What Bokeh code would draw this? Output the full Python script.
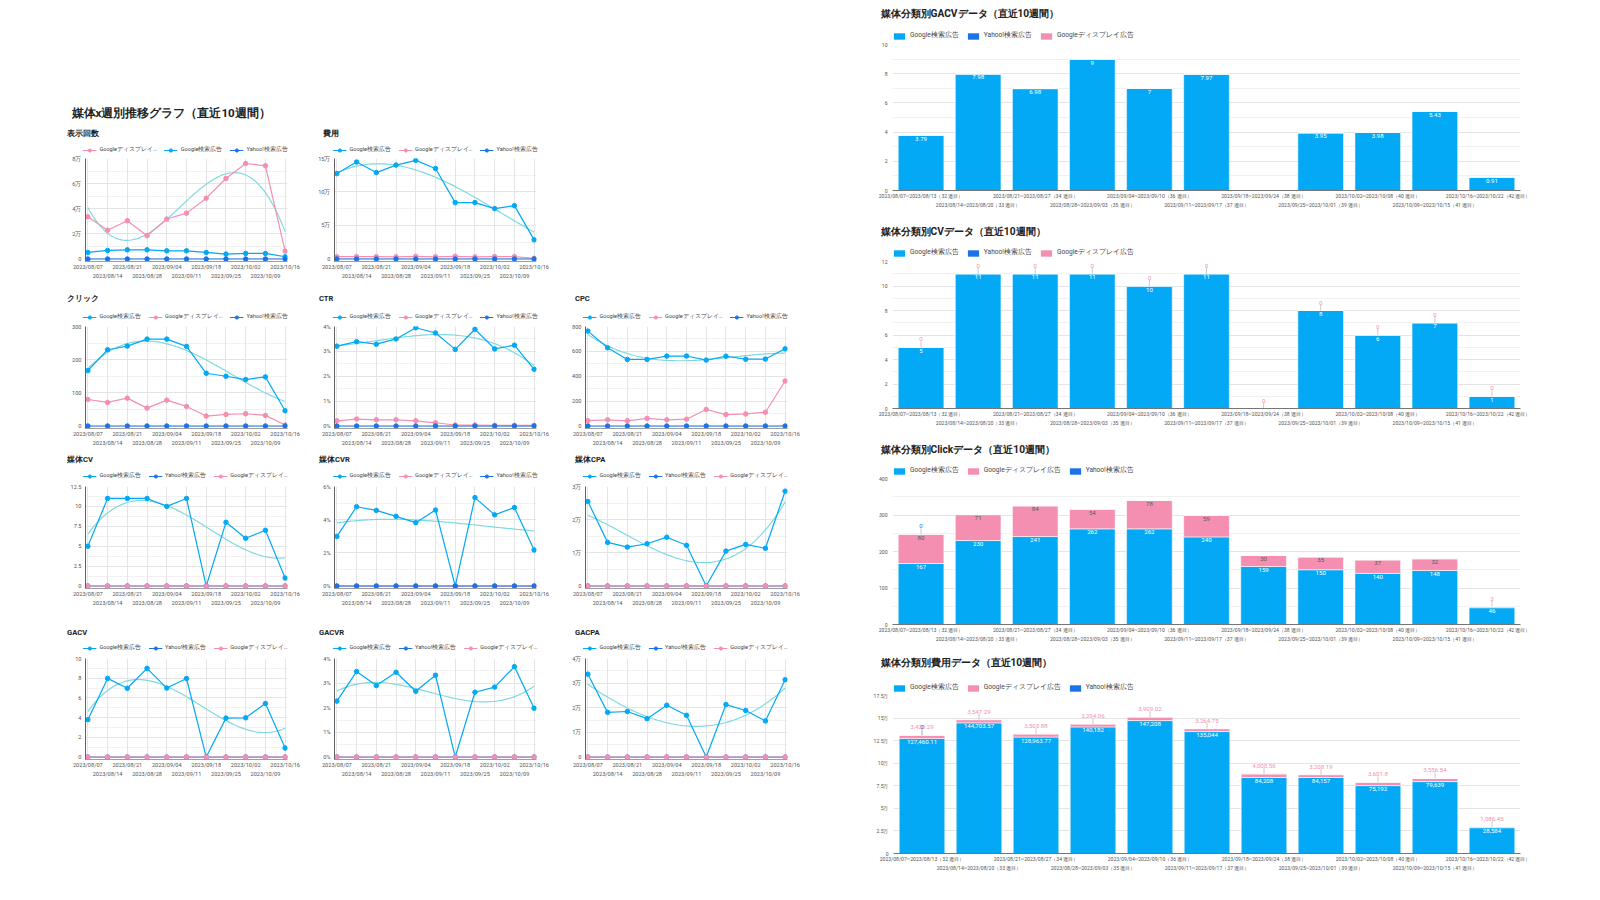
import numpy as np
from bokeh.plotting import figure
from bokeh.models import (Range1d, FixedTicker, LinearAxis, Grid, Legend, LegendItem,
                          Label, Spacer)
from bokeh.layouts import row, column
from bokeh.core.properties import value
from bokeh.embed import file_html
from bokeh.resources import INLINE

FONT = "Roboto"

# ---------------- data ----------------
weeks = ["2023/08/07", "2023/08/14", "2023/08/21", "2023/08/28", "2023/09/04", "2023/09/11",
         "2023/09/18", "2023/09/25", "2023/10/02", "2023/10/09", "2023/10/16"]
week_ends = ["2023/08/13", "2023/08/20", "2023/08/27", "2023/09/03", "2023/09/10", "2023/09/17",
             "2023/09/24", "2023/10/01", "2023/10/08", "2023/10/15", "2023/10/22"]
week_nos = [32, 33, 34, 35, 36, 37, 38, 39, 40, 41, 42]

GS = "Google検索広告"
YH = "Yahoo!検索広告"
GD = "Googleディスプレイ広告"
GD_S = "Googleディスプレイ…"

zeros = [0, 0, 0, 0, 0, 0, 0, 0, 0, 0, 0]

imp_display = [33600, 22900, 30500, 18500, 31800, 36500, 48400, 64100, 76000, 74200, 6300]
imp_search = [5200, 6800, 7300, 7300, 6500, 6500, 5200, 3900, 4400, 4400, 1800]

cost_search = [127460.11, 144703.57, 128963.77, 140182, 147208, 135044, 84208, 84157, 75192, 79639, 28584]
cost_display = [3420.29, 3547.29, 3503.88, 3294.06, 3909.02, 3264.75, 4000.56, 3208.19, 3601.8, 3556.54, 1086.45]

click_search = [167, 230, 241, 262, 262, 240, 159, 150, 140, 148, 46]
click_display = [80, 71, 84, 54, 78, 59, 30, 35, 37, 32, 3]

ctr_search = [3.21, 3.39, 3.29, 3.50, 3.95, 3.74, 3.08, 3.89, 3.10, 3.25, 2.28]
ctr_display = [0.21, 0.28, 0.25, 0.25, 0.21, 0.13, 0.04, 0.04, 0.03, 0.03, 0.03]

cpc_search = [763, 629, 535, 535, 562, 563, 530, 561, 537, 538, 621]
cpc_display = [43, 50, 42, 61, 50, 55, 133, 92, 97, 111, 362]

cv_search = [5, 11, 11, 11, 10, 11, 0, 8, 6, 7, 1]
cvr_search = [2.99, 4.78, 4.56, 4.20, 3.82, 4.58, 0, 5.33, 4.29, 4.73, 2.17]
cpa_search = [25492, 13155, 11724, 12744, 14721, 12277, 0, 10520, 12532, 11377, 28584]

gacv_search = [3.79, 7.98, 6.98, 9, 7, 7.97, 0, 3.95, 3.98, 5.43, 0.91]
gacvr_search = [2.27, 3.47, 2.90, 3.44, 2.67, 3.32, 0, 2.63, 2.84, 3.67, 1.98]
gacpa_search = [33631, 18133, 18476, 15576, 21030, 16944, 0, 21306, 18892, 14667, 31411]

# ---------------- style ----------------
C_GS = "#03a9f4"
C_YH = "#1a73e8"
C_GD = "#f48fb1"
C_TR = "#80d8e2"
GRID = "#e4e4e4"
MINOR = "#f1f1f1"
TXT = "#555555"

X = list(range(11))
week_range_labels = [f"{a}~{b}（{n} 週目）" for a, b, n in zip(weeks, week_ends, week_nos)]


def fmt(v):
    return f"{v:,.2f}".rstrip("0").rstrip(".")


def header_fig(w, h):
    # whole canvas is the frame; data units == canvas pixels
    p = figure(width=w, height=h, x_range=Range1d(0, w), y_range=Range1d(0, h),
               x_axis_type=None, y_axis_type=None, toolbar_location=None, output_backend="svg",
               min_border=0, outline_line_color=None, title=None, frame_align=False)
    p.grid.visible = False
    return p


def week_axes(p, labels, size, line_color):
    evens = [0, 2, 4, 6, 8, 10]
    odds = [1, 3, 5, 7, 9]
    for ticks, standoff, line in ((evens, 2, line_color), (odds, 0, None)):
        ax = LinearAxis(ticker=FixedTicker(ticks=ticks, minor_ticks=[]),
                        major_label_overrides={float(i): labels[i] for i in ticks},
                        axis_line_color=line, major_tick_line_color=None, minor_tick_line_color=None,
                        major_tick_out=0, major_tick_in=0, minor_tick_out=0, minor_tick_in=0,
                        major_label_standoff=standoff, major_label_text_font_size=size,
                        major_label_text_color=TXT, major_label_text_font=FONT)
        p.add_layout(ax, "below")


def style_y(p, ticks, tick_labels, minor, size, axis_line, standoff):
    yt = FixedTicker(ticks=ticks, minor_ticks=minor)
    ya = p.yaxis[0]
    ya.ticker = yt
    ya.major_label_overrides = {float(t): s for t, s in zip(ticks, tick_labels)}
    ya.axis_line_color = axis_line
    ya.major_tick_line_color = None
    ya.minor_tick_line_color = None
    ya.major_tick_out = 0
    ya.major_tick_in = 0
    ya.minor_tick_out = 0
    ya.minor_tick_in = 0
    ya.major_label_text_font = FONT
    ya.major_label_text_font_size = size
    ya.major_label_text_color = TXT
    ya.major_label_standoff = standoff
    g = p.ygrid[0]
    g.ticker = yt
    g.grid_line_color = GRID
    g.minor_grid_line_color = MINOR


# ---------------- small line charts ----------------
cols = [(250, 25, 23, 6.5), (250, 24, 24, 8.5), (250, 25, 23, 14.5)]     # width, left, right, title x
rows = [(30, 9, 103, 0), (40, 16, 102, 1), (33, 10, 102, 2), (45, 23, 101, 2)]  # header h, title y, frame h, legend margin
SMT, SMB = 4, 21


def small_chart(title, series, ticks, tick_labels, minor, r, c, tx=None):
    width, ml, mr, tx0 = cols[c]
    tx = tx0 if tx is None else tx
    hh, ty, fh, lm = rows[r]
    ymax = ticks[-1]
    p = figure(width=width, height=SMT + fh + SMB, x_axis_type=None, toolbar_location=None,
               output_backend="svg", title=None, frame_align=False,
               x_range=Range1d(-0.12, 10.12), y_range=Range1d(-0.025 * ymax, ymax),
               min_border_left=ml, min_border_right=mr, min_border_top=SMT, min_border_bottom=SMB,
               outline_line_color=None)
    style_y(p, ticks, tick_labels, minor, "5.6px", "#616161", 4)
    p.add_layout(Grid(dimension=0, ticker=FixedTicker(ticks=X, minor_ticks=[]), grid_line_color=GRID))
    week_axes(p, weeks, "5.6px", "#9e9e9e")
    first = series[0][1]
    coef = np.polyfit(X, first, 3)
    xs = np.linspace(0, 10, 101)
    p.line(xs, np.polyval(coef, xs), line_color=C_TR, line_width=1.2)
    for name, vals, color in series:
        p.line(X, vals, line_color=color, line_width=1.2)
        p.scatter(X, vals, size=4.5, fill_color=color, line_color=color)

    h = header_fig(width, hh)
    h.add_layout(Label(x=tx, y=hh - ty, text=title, text_font=FONT, text_font_size="7.6px",
                       text_font_style="bold", text_color="#222", text_baseline="middle"))
    items = []
    for name, vals, color in series:
        l = h.line(x=[-1000, -999], y=[-1000, -1000], line_color=color, line_width=1.2)
        s = h.scatter(x=[-1000], y=[-1000], size=4.5, fill_color=color, line_color=color)
        items.append(LegendItem(label=name, renderers=[l, s]))
    leg = Legend(items=items, orientation="horizontal", location="bottom",
                 label_text_font=FONT, label_text_font_size="5.6px", label_text_color="#444",
                 glyph_width=14, glyph_height=8, label_height=8, label_standoff=3, spacing=7,
                 padding=0, margin=lm, border_line_color=None, background_fill_alpha=0)
    h.add_layout(leg)
    return column(h, p)


S_GS = lambda v: (GS, v, C_GS)
S_YH = lambda v: (YH, v, C_YH)
S_GD = lambda v: (GD_S, v, C_GD)
pct = lambda ts: [f"{t}%" for t in ts]

imp = small_chart("表示回数", [S_GD(imp_display), S_GS(imp_search), S_YH(zeros)],
                  [0, 20000, 40000, 60000, 80000], ["0", "2万", "4万", "6万", "8万"],
                  [10000, 30000, 50000, 70000], 0, 0)
cost = small_chart("費用", [S_GS(cost_search), S_GD(cost_display), S_YH(zeros)],
                   [0, 50000, 100000, 150000], ["0", "5万", "10万", "15万"],
                   [25000, 75000, 125000], 0, 1, tx=12)
click = small_chart("クリック", [S_GS(click_search), S_GD(click_display), S_YH(zeros)],
                    [0, 100, 200, 300], ["0", "100", "200", "300"], [50, 150, 250], 1, 0)
ctr = small_chart("CTR", [S_GS(ctr_search), S_GD(ctr_display), S_YH(zeros)],
                  [0, 1, 2, 3, 4], pct([0, 1, 2, 3, 4]), [0.5, 1.5, 2.5, 3.5], 1, 1)
cpc = small_chart("CPC", [S_GS(cpc_search), S_GD(cpc_display), S_YH(zeros)],
                  [0, 200, 400, 600, 800], ["0", "200", "400", "600", "800"],
                  [100, 300, 500, 700], 1, 2)
cv = small_chart("媒体CV", [S_GS(cv_search), S_YH(zeros), S_GD(zeros)],
                 [0, 2.5, 5, 7.5, 10, 12.5], ["0", "2.5", "5", "7.5", "10", "12.5"],
                 [1.25, 3.75, 6.25, 8.75, 11.25], 2, 0)
cvr = small_chart("媒体CVR", [S_GS(cvr_search), S_GD(zeros), S_YH(zeros)],
                  [0, 2, 4, 6], pct([0, 2, 4, 6]), [1, 3, 5], 2, 1)
cpa = small_chart("媒体CPA", [S_GS(cpa_search), S_YH(zeros), S_GD(zeros)],
                  [0, 10000, 20000, 30000], ["0", "1万", "2万", "3万"],
                  [5000, 15000, 25000], 2, 2)
gacv_s = small_chart("GACV", [S_GS(gacv_search), S_YH(zeros), S_GD(zeros)],
                     [0, 2, 4, 6, 8, 10], ["0", "2", "4", "6", "8", "10"],
                     [1, 3, 5, 7, 9], 3, 0)
gacvr_s = small_chart("GACVR", [S_GS(gacvr_search), S_YH(zeros), S_GD(zeros)],
                      [0, 1, 2, 3, 4], pct([0, 1, 2, 3, 4]), [0.5, 1.5, 2.5, 3.5], 3, 1)
gacpa_s = small_chart("GACPA", [S_GS(gacpa_search), S_YH(zeros), S_GD(zeros)],
                      [0, 10000, 20000, 30000, 40000], ["0", "1万", "2万", "3万", "4万"],
                      [5000, 15000, 25000, 35000], 3, 2)

main_title = header_fig(750, 24)
main_title.add_layout(Label(x=11, y=12, text="媒体x週別推移グラフ（直近10週間）", text_font=FONT,
                            text_font_size="11.6px", text_font_style="bold", text_color="#222",
                            text_baseline="middle"))

left_col = column(
    Spacer(width=750, height=100),
    main_title,
    row(imp, cost),
    row(click, ctr, cpc),
    row(cv, cvr, cpa),
    row(gacv_s, gacvr_s, gacpa_s),
)

# ---------------- right-side bar charts ----------------
RW, RML, RMR = 660, 22, 10
BMT, BMB = 3, 20


def bar_base(frame_h, ticks, tick_labels, minor):
    ymax = ticks[-1]
    p = figure(width=RW, height=BMT + frame_h + BMB, x_axis_type=None, toolbar_location=None,
               output_backend="svg", title=None, frame_align=False,
               x_range=Range1d(-0.5, 10.5), y_range=Range1d(0, ymax),
               min_border_left=RML, min_border_right=RMR, min_border_top=BMT, min_border_bottom=BMB,
               outline_line_color=None)
    style_y(p, ticks, tick_labels, minor, "5.1px", None, 5)
    p.xgrid.visible = False
    week_axes(p, week_range_labels, "5.1px", "#757575")
    return p


def stack(p, layers):
    bottom = np.zeros(11)
    tops = {}
    for name, vals, color in layers:
        top = bottom + np.array(vals, dtype=float)
        p.vbar(x=X, bottom=bottom, top=top, width=0.8, fill_color=color,
               line_color="white", line_width=0.7, line_alpha=0.8)
        tops[name] = top
        bottom = top
    return tops


def header(title, hh, ty, ly, order, colors):
    h = header_fig(RW, hh)
    h.add_layout(Label(x=10, y=hh - ty, text=title, text_font=FONT, text_font_size="10.2px",
                       text_font_style="bold", text_color="#222", text_baseline="middle"))
    items = []
    for n in order:
        r = h.vbar(x=[-1000], top=[-1000], bottom=[-1001], width=1, fill_color=colors[n], line_color=None)
        items.append(LegendItem(label=n, renderers=[r]))
    leg = Legend(items=items, orientation="horizontal", location=(RML, ly),
                 label_text_font=FONT, label_text_font_size="6.6px", label_text_color="#444",
                 glyph_width=14, glyph_height=8, label_height=8, label_standoff=4, spacing=7,
                 padding=0, margin=0, border_line_color=None, background_fill_alpha=0)
    h.add_layout(leg)
    return h


def inside_labels(p, xs, ys, texts, color):
    p.text(x=xs, y=ys, text=texts, text_align="center", text_baseline="top", y_offset=1.5,
           text_font=value(FONT), text_font_size="6.1px", text_color=color)


def outside_labels(p, xs, ys, texts, color):
    p.ray(x=xs, y=ys, length=6, length_units="screen", angle=np.pi / 2,
          line_color="#bdbdbd", line_width=0.8)
    p.text(x=xs, y=ys, text=texts, text_align="center", text_baseline="bottom", y_offset=-6,
           text_font=value(FONT), text_font_size="6.1px", text_color=color)


COLORS = {GS: C_GS, YH: C_YH, GD: C_GD}

# GACV
g1 = bar_base(146, [0, 2, 4, 6, 8, 10], ["0", "2", "4", "6", "8", "10"], [1, 3, 5, 7, 9])
t1 = stack(g1, [(GS, gacv_search, C_GS), (YH, zeros, C_YH), (GD, zeros, C_GD)])
idx = [i for i in X if gacv_search[i] > 0]
inside_labels(g1, idx, [gacv_search[i] for i in idx], [fmt(gacv_search[i]) for i in idx], "white")
h1 = header("媒体分類別GACVデータ（直近10週間）", 41, 13, 1, [GS, YH, GD], COLORS)

# CV
g2 = bar_base(147, [0, 2, 4, 6, 8, 10, 12], ["0", "2", "4", "6", "8", "10", "12"], [1, 3, 5, 7, 9, 11])
t2 = stack(g2, [(GS, cv_search, C_GS), (YH, zeros, C_YH), (GD, zeros, C_GD)])
idx = [i for i in X if cv_search[i] > 0]
inside_labels(g2, idx, [cv_search[i] for i in idx], [fmt(cv_search[i]) for i in idx], "white")
outside_labels(g2, X, list(t2[GD]), [fmt(v) for v in zeros], C_GD)
h2 = header("媒体分類別CVデータ（直近10週間）", 48, 21, 1, [GS, YH, GD], COLORS)

# Click
g3 = bar_base(146, [0, 100, 200, 300, 400], ["0", "100", "200", "300", "400"], [50, 150, 250, 350])
t3 = stack(g3, [(GS, click_search, C_GS), (GD, click_display, C_GD), (YH, zeros, C_YH)])
inside_labels(g3, X, click_search, [fmt(v) for v in click_search], "white")
inner = list(range(10))
inside_labels(g3, inner, [t3[GD][i] for i in inner], [fmt(click_display[i]) for i in inner], "#5a5a5a")
outside_labels(g3, [10], [t3[GD][10]], [fmt(click_display[10])], C_GD)
outside_labels(g3, [0], [t3[YH][0]], [fmt(zeros[0])], C_YH)
h3 = header("媒体分類別Clickデータ（直近10週間）", 47, 21, 0, [GS, GD, YH], COLORS)

# Cost
g4 = bar_base(158, [0, 25000, 50000, 75000, 100000, 125000, 150000, 175000],
              ["0", "2.5万", "5万", "7.5万", "10万", "12.5万", "15万", "17.5万"], [])
t4 = stack(g4, [(GS, cost_search, C_GS), (GD, cost_display, C_GD), (YH, zeros, C_YH)])
inside_labels(g4, X, cost_search, [fmt(v) for v in cost_search], "white")
outside_labels(g4, X, list(t4[GD]), [fmt(v) for v in cost_display], C_GD)
outside_labels(g4, [0], [t4[YH][0]], [fmt(zeros[0])], C_YH)
h4 = header("媒体分類別費用データ（直近10週間）", 48, 18, 0, [GS, GD, YH], COLORS)

right_col = column(h1, g1, h2, g2, h3, g3, h4, g4)

layout = row(Spacer(width=60, height=10), left_col, Spacer(width=60, height=10), right_col)

open("out.html", "w").write(file_html(layout, INLINE))
